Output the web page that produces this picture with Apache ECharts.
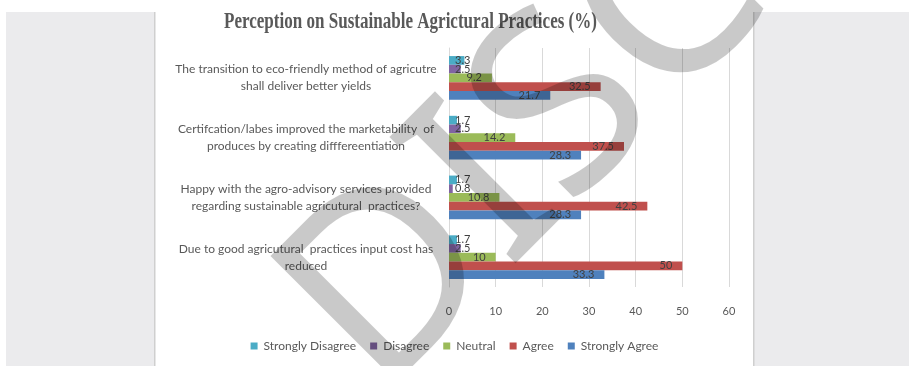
<!DOCTYPE html>
<html>
<head>
<meta charset="utf-8">
<script src="https://cdn.jsdelivr.net/npm/echarts@6/dist/echarts.min.js"></script>
<style>
  html, body { margin: 0; padding: 0; background: #ffffff; }
  #chart { width: 909px; height: 366px; }
</style>
</head>
<body>
<div id="chart"></div>
<script>
// Survey statements, listed top to bottom
const categories = [
  'The transition to eco-friendly method of agricutre\nshall deliver better yields',
  'Certifcation/labes improved the marketability  of\nproduces by creating difffereentiation',
  'Happy with the agro-advisory services provided\nregarding sustainable agricutural  practices?',
  'Due to good agricutural  practices input cost has\nreduced'
];

// Response shares (%) per statement
const stronglyDisagree = [3.3, 1.7, 1.7, 1.7];
const disagree         = [2.5, 2.5, 0.8, 2.5];
const neutral          = [9.2, 14.2, 10.8, 10];
const agree            = [32.5, 37.5, 42.5, 50];
const stronglyAgree    = [21.7, 28.3, 28.3, 33.3];

const seriesNames  = ['Strongly Disagree', 'Disagree', 'Neutral', 'Agree', 'Strongly Agree'];
const seriesValues = [stronglyDisagree, disagree, neutral, agree, stronglyAgree];
const seriesColors = ['#4bacc6', '#8064a2', '#9bbb59', '#c0504d', '#4f81bd'];

const axisMin = 0, axisMax = 60, axisStep = 10;
const titleText = 'Perception on Sustainable Agrictural Practices (%)';
const watermarkText = 'DISC';

const LABEL_FONT = 'Lato';

// Fit the serif title to its narrow box
const titleFont = 'bold 24px "Liberation Serif"';
const measure = document.createElement('canvas').getContext('2d');
measure.font = titleFont;
const titleScale = 373 / measure.measureText(titleText).width;

const chart = echarts.init(document.getElementById('chart'), null, { renderer: 'canvas' });

const series = seriesNames.map((name, i) => ({
  name: name,
  type: 'bar',
  barGap: '0%',
  barCategoryGap: '27%',
  itemStyle: { color: seriesColors[i] },
  label: {
    show: true,
    position: 'insideRight',
    distance: 10,
    color: '#404040',
    fontFamily: LABEL_FONT,
    fontSize: 11
  },
  data: seriesValues[i].map(v => v < 5
    ? { value: v, label: { position: 'insideLeft', distance: 6 } }
    : { value: v })
}));

chart.setOption({
  backgroundColor: '#ffffff',
  animation: false,
  textStyle: { fontFamily: LABEL_FONT },
  grid: { left: 449, right: 180, top: 48, bottom: 79, containLabel: false },
  legend: {
    data: seriesNames,
    bottom: 9,
    left: 'center',
    icon: 'rect',
    itemWidth: 7,
    itemHeight: 7,
    itemGap: 14,
    textStyle: { color: '#595959', fontSize: 12, fontFamily: LABEL_FONT, padding: [0, 0, 0, 1] }
  },
  xAxis: {
    type: 'value',
    min: axisMin,
    max: axisMax,
    interval: axisStep,
    axisLine: { show: false },
    axisTick: { show: false },
    axisLabel: { color: '#595959', fontSize: 11, margin: 19, fontFamily: LABEL_FONT },
    splitLine: { show: true, lineStyle: { color: '#d9d9d9', width: 1 } }
  },
  yAxis: {
    type: 'category',
    inverse: true,
    data: categories,
    axisLine: { show: true, lineStyle: { color: '#d9d9d9', width: 1 } },
    axisTick: { show: false },
    axisLabel: {
      color: '#595959',
      fontSize: 12,
      fontFamily: LABEL_FONT,
      align: 'center',
      margin: 143,
      lineHeight: 17
    }
  },
  series: series,
  graphic: [
    // side panels
    { type: 'rect', z: -10, silent: true, shape: { x: 6, y: 12, width: 149, height: 360 },
      style: { fill: '#ebebed' } },
    { type: 'rect', z: -9, silent: true, shape: { x: 154, y: 12, width: 1.5, height: 360 },
      style: { fill: '#cfcfcf' } },
    { type: 'rect', z: -10, silent: true, shape: { x: 753, y: 12, width: 160, height: 360 },
      style: { fill: '#ebebed' } },
    { type: 'rect', z: -9, silent: true, shape: { x: 753, y: 12, width: 1.5, height: 360 },
      style: { fill: '#cfcfcf' } },
    // chart title
    { type: 'text', z: 10, silent: true, x: 224, y: 22, scaleX: titleScale,
      style: { text: titleText, font: titleFont, fill: '#595959', align: 'left', verticalAlign: 'middle' } },
    // diagonal watermark, translucent so the chart shows through
    { type: 'text', z: 200, silent: true, x: 528, y: 150, rotation: Math.PI / 4,
      style: { text: watermarkText, fontSize: 250, fontFamily: 'Noto Sans', fontWeight: 400,
               fill: '#000000', opacity: 0.21, align: 'center', verticalAlign: 'middle' } }
  ]
});
</script>
</body>
</html>
